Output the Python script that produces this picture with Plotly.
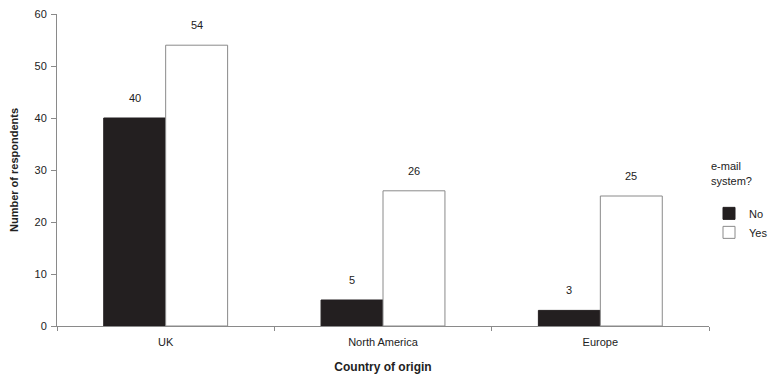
import plotly.graph_objects as go

categories = ["UK", "North America", "Europe"]
no_values = [40, 5, 3]
yes_values = [54, 26, 25]
y_ticks = [0, 10, 20, 30, 40, 50, 60]

FONT = "Arial, Liberation Sans, sans-serif"
TXT = "#222222"

fig = go.Figure()
fig.add_trace(go.Bar(
    x=categories, y=no_values, name="No",
    marker=dict(color="#231f20", line=dict(color="#231f20", width=1)),
))
fig.add_trace(go.Bar(
    x=categories, y=yes_values, name="Yes",
    marker=dict(color="white", line=dict(color="#8a8a8a", width=1)),
))

annotations = []
for c, v in zip(categories, no_values):
    annotations.append(dict(x=c, y=v, text=str(v), showarrow=False, xref="x", yref="y",
                            xshift=-31, yshift=12, yanchor="bottom",
                            font=dict(family=FONT, size=11, color=TXT)))
for c, v in zip(categories, yes_values):
    annotations.append(dict(x=c, y=v, text=str(v), showarrow=False, xref="x", yref="y",
                            xshift=31, yshift=12, yanchor="bottom",
                            font=dict(family=FONT, size=11, color=TXT)))

# page has an 8px body margin; figure is sized/margined to compensate
fig.update_layout(
    width=771, height=371,
    margin=dict(l=49, r=70, t=6, b=53),
    paper_bgcolor="white", plot_bgcolor="white",
    barmode="group", bargap=0.43, bargroupgap=0,
    font=dict(family=FONT, size=11, color=TXT),
    annotations=annotations,
    showlegend=True,
    legend=dict(
        x=1.0, xanchor="left", y=0.545, yanchor="top",
        title=dict(text="e-mail<br>system?<br> ", side="top", font=dict(family=FONT, size=11, color=TXT)),
        font=dict(family=FONT, size=11, color=TXT),
        itemwidth=30, tracegroupgap=4,
        bgcolor="rgba(0,0,0,0)",
    ),
)
fig.update_xaxes(
    type="category", range=[-0.5, 2.5], automargin=False,
    showline=True, linecolor="#8a8a8a", linewidth=1,
    ticks="outside", tickson="boundaries", ticklen=4, tickcolor="#8a8a8a",
    ticklabelstandoff=6,
    showgrid=False, zeroline=False,
    tickfont=dict(family=FONT, size=11, color=TXT),
    title=dict(text="<b>Country of origin</b>", font=dict(family=FONT, size=12, color=TXT), standoff=15),
)
fig.update_yaxes(
    range=[0, 60], tickvals=y_ticks, automargin=False,
    ticklabeloverflow="allow",
    showline=True, linecolor="#8a8a8a", linewidth=1,
    ticks="outside", ticklen=5, tickcolor="#8a8a8a",
    ticklabelstandoff=2,
    showgrid=False, zeroline=False,
    tickfont=dict(family=FONT, size=11, color=TXT),
    title=dict(text="<b>Number of respondents</b>", font=dict(family=FONT, size=11, color=TXT), standoff=16),
)

fig.write_html("out.html")
